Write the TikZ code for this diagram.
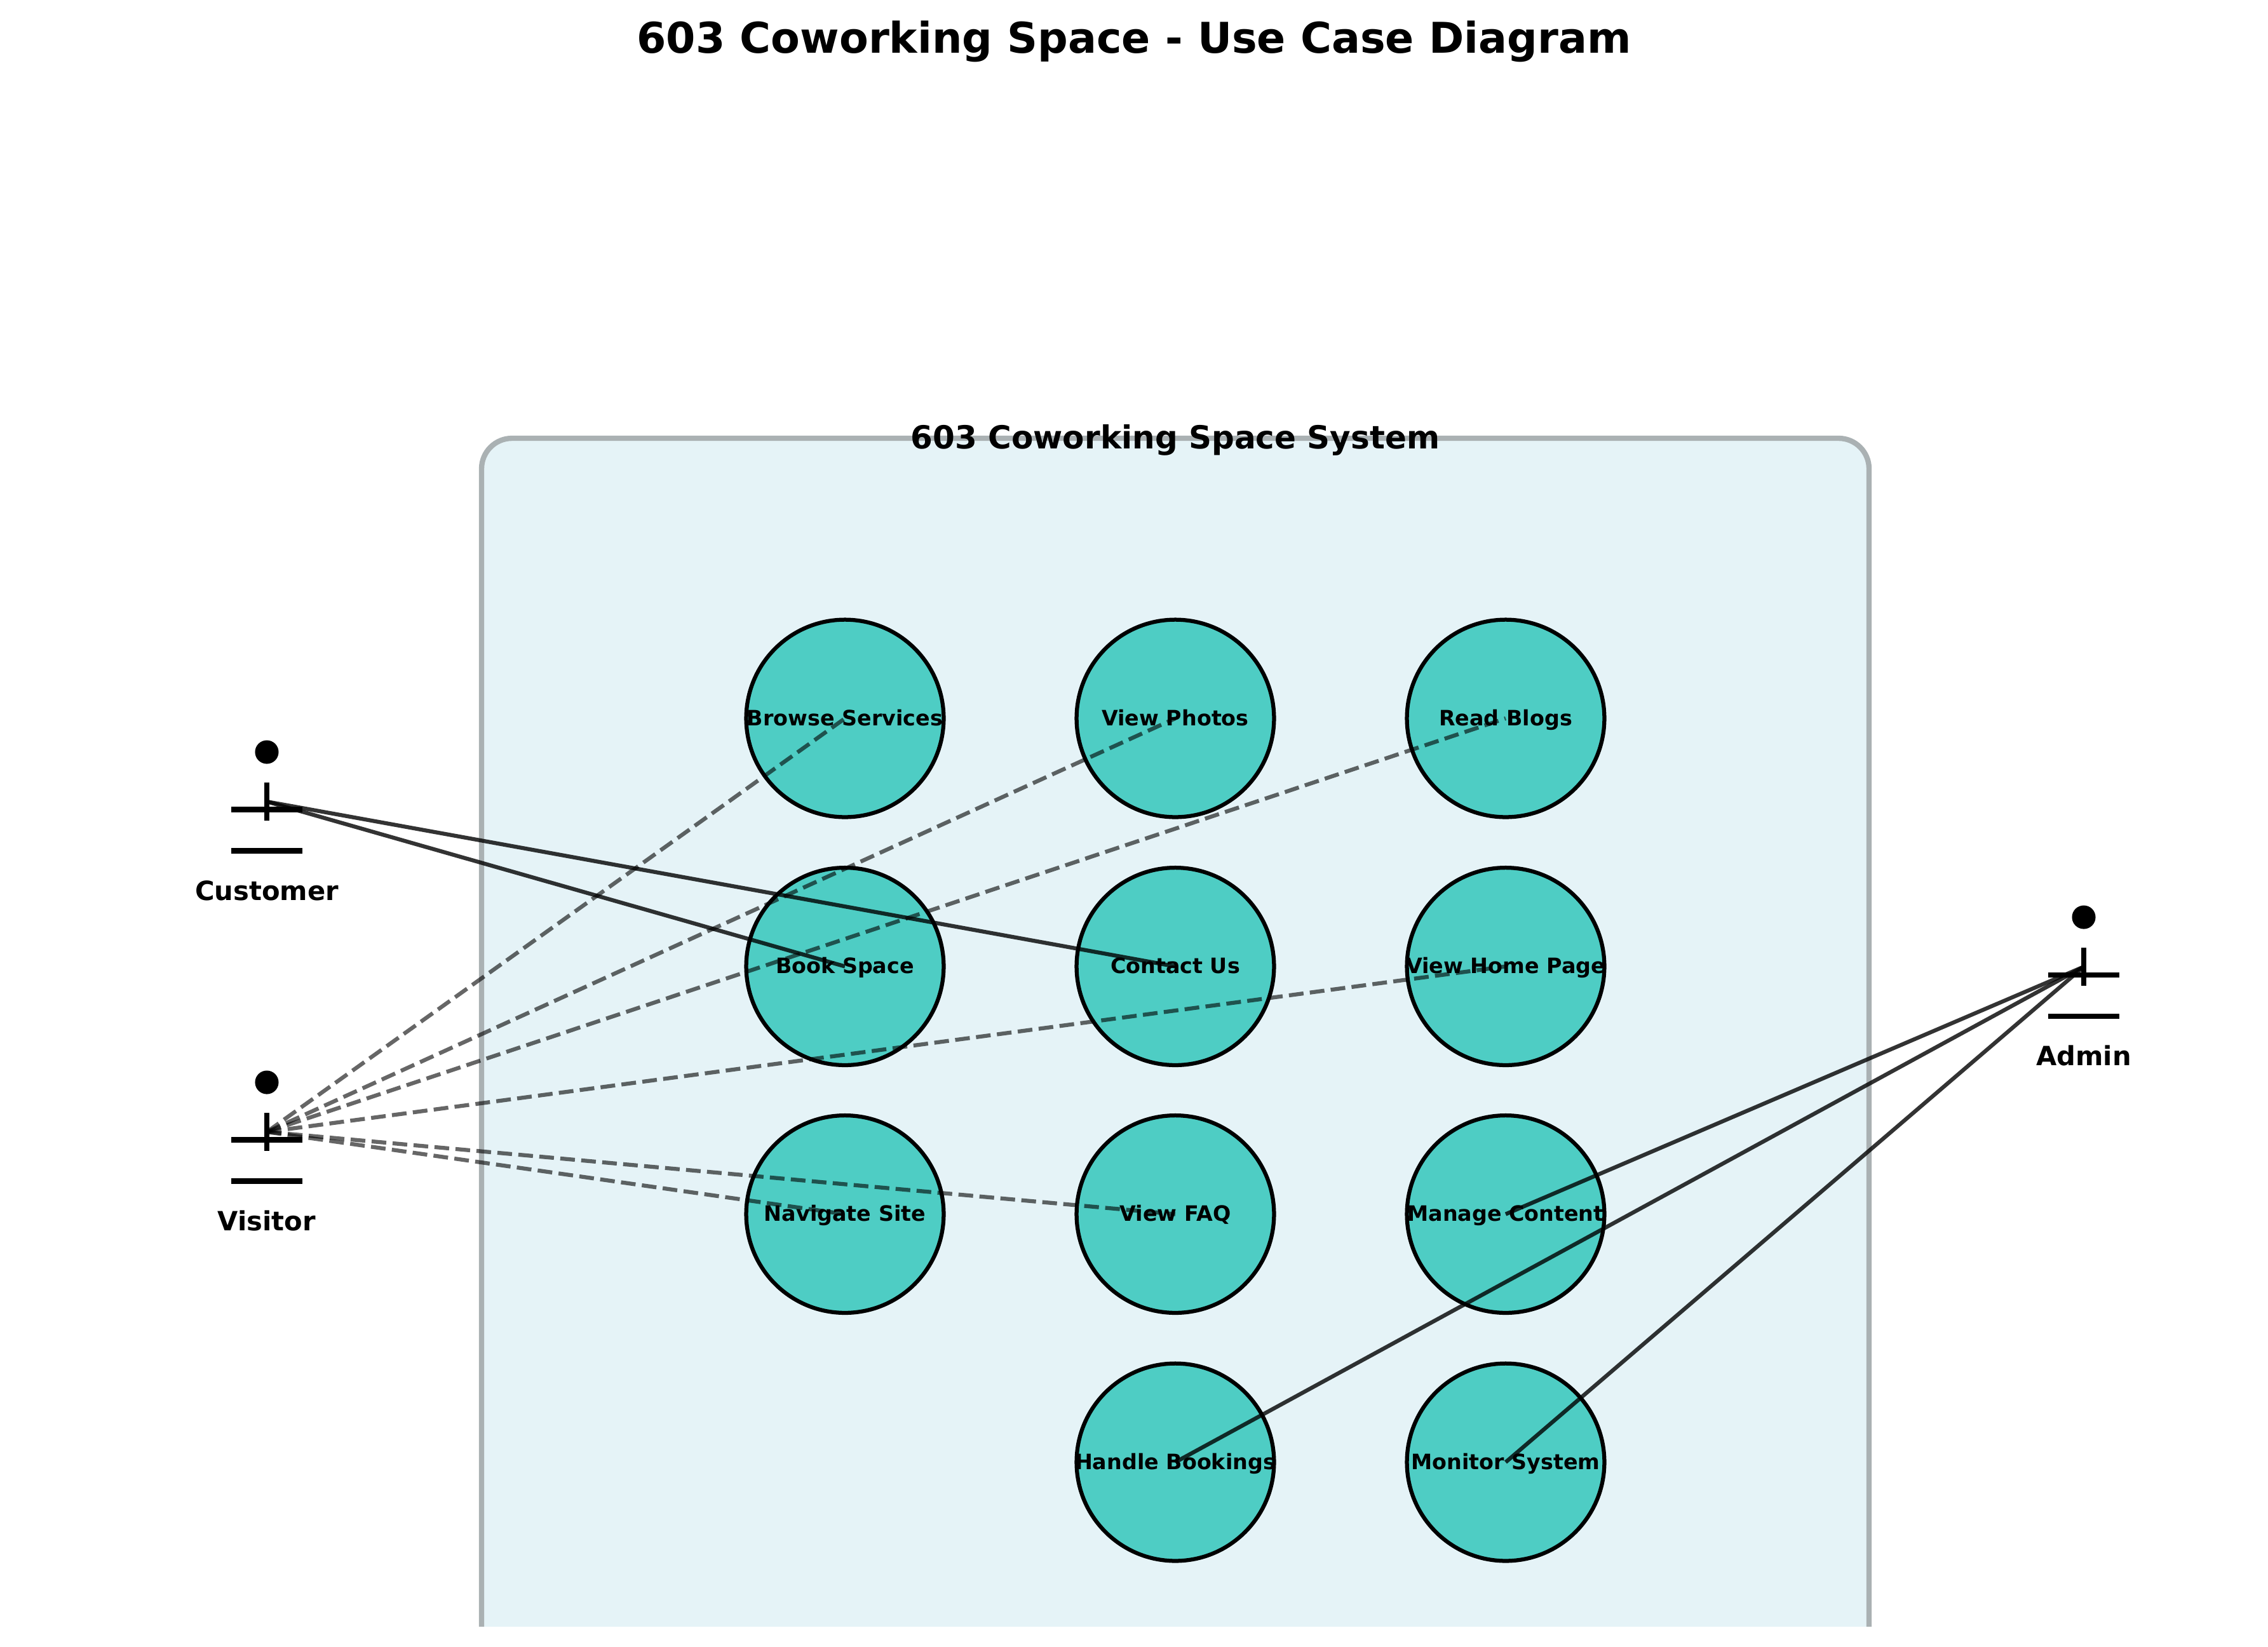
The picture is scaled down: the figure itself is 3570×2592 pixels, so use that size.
\documentclass[tikz,border=0pt]{standalone}
\usepackage{fontspec}
\setmainfont{DejaVu Sans}
\definecolor{turquoise}{RGB}{78, 205, 196}
\definecolor{paleblue}{RGB}{229, 243, 247}
\definecolor{ashgray}{RGB}{170, 177, 179}
\tikzset{
    uccircle/.style={circle, draw=black, fill=turquoise, line width=1.5bp, minimum size=74.6bp, inner sep=0pt, outer sep=0pt},
    uclabel/.style={anchor=base, yshift=-2.7bp, inner sep=0pt, font=\fontsize{8.03}{10}\selectfont\bfseries},
    actorhead/.style={circle, fill=black, minimum size=8.9bp, inner sep=0pt, outer sep=0pt},
    actorline/.style={line width=2bp},
    actorlabel/.style={anchor=base, inner sep=0pt, font=\fontsize{10.04}{12}\selectfont\bfseries},
    solidlink/.style={line width=1.5bp, draw=black, draw opacity=0.8},
    dashlink/.style={line width=1.5bp, draw=black, draw opacity=0.6, dash pattern=on 5.55bp off 2.4bp}
}

\begin{document}
\begin{tikzpicture}[x=0.24bp, y=-0.24bp]
    \useasboundingbox (0,0) rectangle (3570,2592);
    % Titles and system boundary (open at the bottom)
    \node[anchor=base, inner sep=0pt, font=\fontsize{16.06}{19}\selectfont\bfseries] (title) at (1785, 83) {603 Coworking Space - Use Case Diagram};
    \draw[draw=ashgray, fill=paleblue, line width=2bp, rounded corners=11.5bp] (758,2561) -- (758,690) -- (2942,690) -- (2942,2561);
    \node[anchor=base, inner sep=0pt, font=\fontsize{12.05}{14}\selectfont\bfseries] (system) at (1850, 706) {603 Coworking Space System};
    % Use case circles
    \node[uccircle] (ucBrowse)  at (1330, 1131) {};
    \node[uccircle] (ucPhotos)  at (1850, 1131) {};
    \node[uccircle] (ucBlogs)   at (2370, 1131) {};
    \node[uccircle] (ucBook)    at (1330, 1521.5) {};
    \node[uccircle] (ucContact) at (1850, 1521.5) {};
    \node[uccircle] (ucHome)    at (2370, 1521.5) {};
    \node[uccircle] (ucNavigate) at (1330, 1911.5) {};
    \node[uccircle] (ucFaq)     at (1850, 1911.5) {};
    \node[uccircle] (ucManage)  at (2370, 1911.5) {};
    \node[uccircle] (ucHandle)  at (1850, 2302) {};
    \node[uccircle] (ucMonitor) at (2370, 2302) {};
    % Customer
    \node[actorhead] (headCustomer) at (420, 1184) {};
    \draw[actorline] (420,1232) -- (420,1292);
    \draw[actorline] (364,1274.5) -- (476,1274.5);
    \draw[actorline] (364,1339.5) -- (476,1339.5);
    \node[actorlabel] (lbCustomer) at (420, 1417) {Customer};
    \coordinate (actCustomer) at (420, 1262);
    % Visitor
    \node[actorhead] (headVisitor) at (420, 1704) {};
    \draw[actorline] (420,1752) -- (420,1812);
    \draw[actorline] (364,1794.5) -- (476,1794.5);
    \draw[actorline] (364,1859.5) -- (476,1859.5);
    \node[actorlabel] (lbVisitor) at (420, 1937.5) {Visitor};
    \coordinate (actVisitor) at (420, 1782);
    % Admin
    \node[actorhead] (headAdmin) at (3280, 1444) {};
    \draw[actorline] (3280,1492) -- (3280,1552);
    \draw[actorline] (3224,1535) -- (3336,1535);
    \draw[actorline] (3224,1600) -- (3336,1600);
    \node[actorlabel] (lbAdmin) at (3280, 1677) {Admin};
    \coordinate (actAdmin) at (3280, 1522);
    % Connectors
    \draw[solidlink] (actCustomer) -- (ucBook.center);
    \draw[solidlink] (actCustomer) -- (ucContact.center);
    \draw[dashlink]  (actVisitor) -- (ucBrowse.center);
    \draw[dashlink]  (actVisitor) -- (ucPhotos.center);
    \draw[dashlink]  (actVisitor) -- (ucBlogs.center);
    \draw[dashlink]  (actVisitor) -- (ucHome.center);
    \draw[dashlink]  (actVisitor) -- (ucFaq.center);
    \draw[dashlink]  (actVisitor) -- (ucNavigate.center);
    \draw[solidlink] (actAdmin) -- (ucManage.center);
    \draw[solidlink] (actAdmin) -- (ucHandle.center);
    \draw[solidlink] (actAdmin) -- (ucMonitor.center);
    % Use case labels stay on top of the connectors
    \node[uclabel] (lbBrowse)   at (ucBrowse.center)   {Browse Services};
    \node[uclabel] (lbPhotos)   at (ucPhotos.center)   {View Photos};
    \node[uclabel] (lbBlogs)    at (ucBlogs.center)    {Read Blogs};
    \node[uclabel] (lbBook)     at (ucBook.center)     {Book Space};
    \node[uclabel] (lbContact)  at (ucContact.center)  {Contact Us};
    \node[uclabel] (lbHome)     at (ucHome.center)     {View Home Page};
    \node[uclabel] (lbNavigate) at (ucNavigate.center) {Navigate Site};
    \node[uclabel] (lbFaq)      at (ucFaq.center)      {View FAQ};
    \node[uclabel] (lbManage)   at (ucManage.center)   {Manage Content};
    \node[uclabel] (lbHandle)   at (ucHandle.center)   {Handle Bookings};
    \node[uclabel] (lbMonitor)  at (ucMonitor.center)  {Monitor System};
\end{tikzpicture}
\end{document}
